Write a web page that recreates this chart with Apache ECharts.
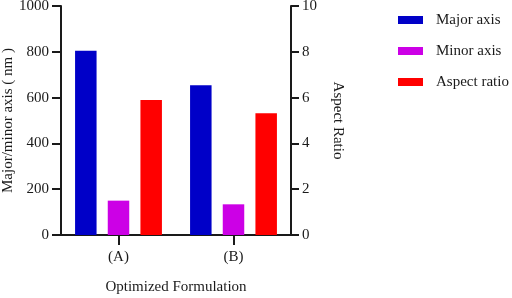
<!DOCTYPE html>
<html>
<head>
<meta charset="utf-8">
<script src="https://cdn.jsdelivr.net/npm/echarts@6/dist/echarts.min.js"></script>
<style>
  html, body { margin: 0; padding: 0; background: #fff; }
  #chart { width: 512px; height: 298px; }
</style>
</head>
<body>
<div id="chart"></div>
<script>
// data
const categories = ['(A)', '(B)']
const majorAxis = [805, 654]
const minorAxis = [150, 134]
const aspectRatio = [5.9, 5.32]

const font = "'Liberation Serif', 'Times New Roman', serif"
const ink = '#1a1a1a'

const axisCommon = {
  axisLine: { show: true, lineStyle: { color: ink, width: 2 } },
  axisTick: { show: true, length: 9, lineStyle: { color: ink, width: 2 } },
  splitLine: { show: false },
  nameTextStyle: { color: ink, fontFamily: font, fontSize: 15 }
}

const chart = echarts.init(document.getElementById('chart'))

chart.setOption({
  animation: false,
  textStyle: { fontFamily: font },
  grid: { left: 61, right: 221, top: 6, bottom: 63, outerBoundsMode: 'none' },
  legend: {
    left: 398,
    top: 12,
    padding: 0,
    orient: 'vertical',
    itemWidth: 25,
    itemHeight: 8,
    itemGap: 15,
    icon: 'rect',
    textStyle: { color: ink, fontFamily: font, fontSize: 15, lineHeight: 16, padding: [0, 0, 0, 8] },
    data: ['Major axis', 'Minor axis', 'Aspect ratio']
  },
  xAxis: {
    type: 'category',
    data: categories,
    name: 'Optimized Formulation',
    nameLocation: 'middle',
    nameGap: 45,
    ...axisCommon,
    axisTick: { show: true, alignWithLabel: true, length: 10, lineStyle: { color: ink, width: 2 } },
    axisLabel: { color: ink, fontFamily: font, fontSize: 15, margin: 15 }
  },
  yAxis: [
    {
      type: 'value',
      position: 'left',
      min: 0,
      max: 1000,
      interval: 200,
      name: 'Major/minor axis ( nm )',
      nameLocation: 'middle',
      nameGap: 38,
      ...axisCommon,
      axisLabel: { color: ink, fontFamily: font, fontSize: 15, margin: 12, formatter: v => String(v) }
    },
    {
      type: 'value',
      position: 'right',
      min: 0,
      max: 10,
      interval: 2,
      name: 'Aspect Ratio',
      nameLocation: 'middle',
      nameRotate: -90,
      nameGap: 39,
      ...axisCommon,
      axisTick: { show: true, length: 8, lineStyle: { color: ink, width: 2 } },
      axisLabel: { color: ink, fontFamily: font, fontSize: 15, margin: 11 }
    }
  ],
  series: [
    {
      name: 'Major axis',
      type: 'bar',
      yAxisIndex: 0,
      barWidth: 21.5,
      barGap: '52%',
      data: majorAxis,
      itemStyle: { color: '#0000c8' }
    },
    {
      name: 'Minor axis',
      type: 'bar',
      yAxisIndex: 0,
      barWidth: 21.5,
      barGap: '52%',
      data: minorAxis,
      itemStyle: { color: '#cc00e6' }
    },
    {
      name: 'Aspect ratio',
      type: 'bar',
      yAxisIndex: 1,
      barWidth: 21.5,
      barGap: '52%',
      data: aspectRatio,
      itemStyle: { color: '#ff0000' }
    }
  ]
})
</script>
</body>
</html>
